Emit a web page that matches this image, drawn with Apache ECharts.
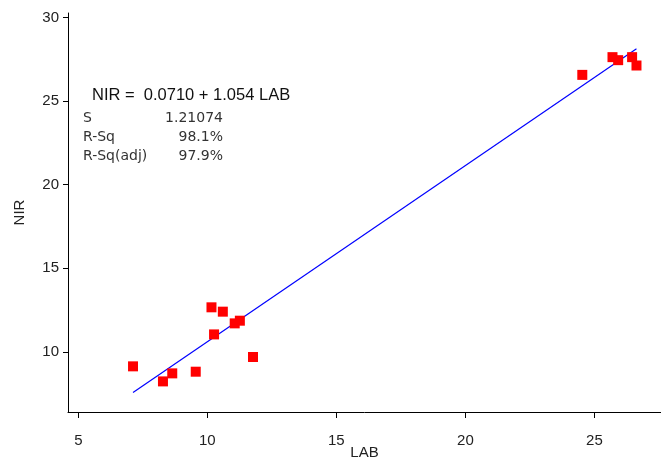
<!DOCTYPE html>
<html>
<head>
<meta charset="utf-8">
<script src="https://cdn.jsdelivr.net/npm/echarts@6/dist/echarts.min.js"></script>
<style>html,body{margin:0;padding:0;background:#fff}#c{width:661px;height:459px}</style>
</head>
<body>
<div id="c"></div>
<script>
const labValues = [7.12, 8.28, 8.64, 9.55, 10.16, 10.60, 10.26, 11.06, 11.26, 11.77, 24.53, 25.70, 25.92, 26.46, 26.63];
const nirValues = [9.14, 8.24, 8.72, 8.82, 12.67, 12.41, 11.05, 11.71, 11.87, 9.70, 26.57, 27.63, 27.45, 27.63, 27.13];
const fitCoefficients = [0.0710, 1.054];
const xTicks = [5, 10, 15, 20, 25];
const yTicks = [10, 15, 20, 25, 30];
const statNames = ['S', 'R-Sq', 'R-Sq(adj)'];
const statValues = ['1.21074', '98.1%', '97.9%'];
const equationText = 'NIR =  0.0710 + 1.054 LAB';

const points = labValues.map((x, i) => [x, nirValues[i]]);
const xmin = Math.min(...labValues), xmax = Math.max(...labValues);
const fitLine = [xmin, xmax].map(x => [x, fitCoefficients[0] + fitCoefficients[1] * x]);

const chart = echarts.init(document.getElementById('c'));
const font = 'Liberation Sans, Arial, sans-serif';
const statFont = '14px DejaVu Sans, sans-serif';
const statGraphics = [];
const statY = [118, 137, 156];
statNames.forEach((n, i) => {
  statGraphics.push({type: 'text', x: 83, y: statY[i], style: {text: n, font: statFont, fill: '#333', verticalAlign: 'middle'}});
  statGraphics.push({type: 'text', x: 223, y: statY[i], style: {text: statValues[i], font: statFont, fill: '#333', align: 'right', verticalAlign: 'middle'}});
});
chart.setOption({
  animation: false,
  grid: {left: 68, right: 0, top: 13, bottom: 47, outerBoundsMode: 'none', containLabel: false},
  xAxis: {
    type: 'value', min: 4.6, max: 27.58, interval: 5,
    name: 'LAB', nameLocation: 'middle', nameGap: 33, nameMoveOverlap: false,
    nameTextStyle: {fontSize: 15, color: '#222', fontFamily: font},
    axisLine: {lineStyle: {color: '#000', width: 1}},
    axisTick: {show: true, length: 6, lineStyle: {color: '#000'}, customValues: xTicks},
    axisLabel: {fontSize: 15, color: '#222', fontFamily: font, margin: 21, customValues: xTicks},
    splitLine: {show: false}
  },
  yAxis: {
    type: 'value', min: 6.41, max: 30.27,
    name: 'NIR', nameLocation: 'middle', nameGap: 41, nameMoveOverlap: false,
    nameTextStyle: {fontSize: 15, color: '#222', fontFamily: font},
    axisLine: {show: true, lineStyle: {color: '#000', width: 1}},
    axisTick: {show: true, length: 5, lineStyle: {color: '#000'}, customValues: yTicks},
    axisLabel: {fontSize: 15, color: '#222', fontFamily: font, margin: 9, customValues: yTicks},
    splitLine: {show: false}
  },
  series: [
    {type: 'line', data: fitLine, showSymbol: false, symbol: 'none', lineStyle: {color: '#0000ff', width: 1.2}, z: 2},
    {type: 'scatter', data: points, symbol: 'rect', symbolSize: 10, itemStyle: {color: '#ff0000', opacity: 1}, z: 3}
  ],
  graphic: [
    {type: 'text', x: 92, y: 95, style: {text: equationText, font: '16.5px ' + font, fill: '#111', verticalAlign: 'middle'}},
    ...statGraphics
  ]
});
</script>
</body>
</html>
